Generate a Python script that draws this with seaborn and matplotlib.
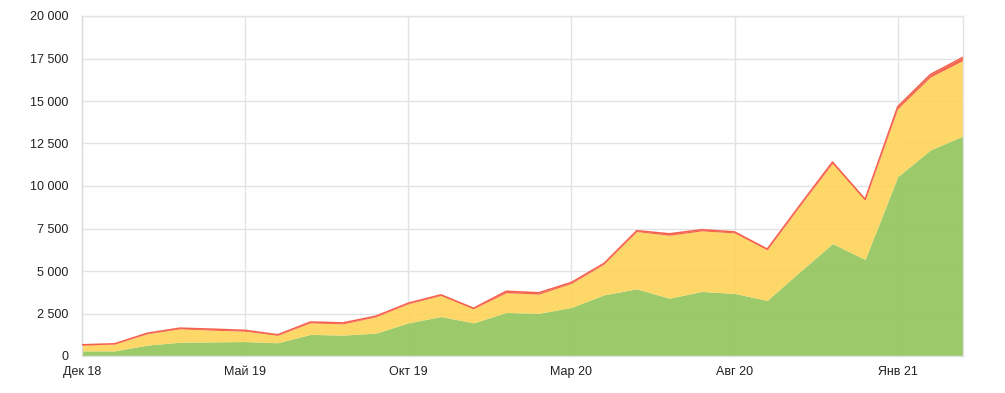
import numpy as np
import pandas as pd
import seaborn as sns
import matplotlib
matplotlib.use("Agg")
import matplotlib.pyplot as plt
from matplotlib.ticker import FuncFormatter, MultipleLocator

months = ["Дек 18", "Янв 19", "Фев 19", "Мар 19", "Апр 19", "Май 19", "Июн 19", "Июл 19",
          "Авг 19", "Сен 19", "Окт 19", "Ноя 19", "Дек 19", "Янв 20", "Фев 20", "Мар 20",
          "Апр 20", "Май 20", "Июн 20", "Июл 20", "Авг 20", "Сен 20", "Окт 20", "Ноя 20",
          "Дек 20", "Янв 21", "Фев 21", "Мар 21"]
green = [300, 300, 640, 810, 830, 850, 780, 1270, 1230, 1340, 1950, 2320, 1950, 2560,
         2510, 2860, 3600, 3950, 3400, 3800, 3680, 3270, 4960, 6610, 5680, 10550, 12120, 12940]
yellow = [340, 400, 670, 790, 690, 610, 440, 680, 660, 960, 1120, 1240, 830, 1160,
          1130, 1410, 1810, 3370, 3700, 3560, 3560, 2970, 3860, 4720, 3480, 4000, 4290, 4450]
red = [20, 20, 30, 40, 60, 50, 30, 50, 60, 40, 40, 40, 30, 90,
       80, 60, 40, 50, 90, 70, 60, 50, 50, 80, 60, 120, 150, 180]
tick_months = ["Дек 18", "Май 19", "Окт 19", "Мар 20", "Авг 20", "Янв 21"]

sns.set_theme(style="whitegrid")
plt.rcParams['font.family'] = ['Liberation Sans', 'DejaVu Sans']

df = pd.DataFrame({"month": months, "green": green, "yellow": yellow, "red": red})
df["x"] = np.arange(len(df))
df["total"] = df["green"] + df["yellow"] + df["red"]

fig = plt.figure(figsize=(10.05, 3.93), dpi=100)
ax = fig.add_axes([82 / 1005, 1 - 356 / 393, (963 - 82) / 1005, (356 - 16) / 393])

ax.stackplot(df["x"], df["green"], df["yellow"], df["red"],
             colors=["#91c55b", "#fdd457", "#f4553c"], alpha=0.9, linewidth=0, zorder=2)
sns.lineplot(data=df, x="x", y="total", color="#f5604a", linewidth=1.1, ax=ax, zorder=3)

ax.set_xlim(0, len(df) - 1)
ax.set_ylim(0, 20000)
ax.yaxis.set_major_locator(MultipleLocator(2500))
ax.yaxis.set_major_formatter(FuncFormatter(lambda v, p: f"{int(v):,}".replace(",", " ")))
tick_pos = [months.index(m) for m in tick_months]
ax.set_xticks(tick_pos)
ax.set_xticklabels(tick_months)
ax.set_xlabel("")
ax.set_ylabel("")

ax.grid(True, color="#e3e3e3", linewidth=1)
ax.set_axisbelow(True)
for s in ["top", "right", "bottom"]:
    ax.spines[s].set_visible(True)
    ax.spines[s].set_color("#e3e3e3")
    ax.spines[s].set_linewidth(1)
ax.spines["left"].set_color("#dcdcdc")
ax.spines["left"].set_linewidth(1)
ax.tick_params(axis="both", labelsize=9, colors="#222222", length=0)
ax.tick_params(axis="y", pad=10)
ax.tick_params(axis="x", pad=7)

fig.savefig("out.png", dpi=100)
